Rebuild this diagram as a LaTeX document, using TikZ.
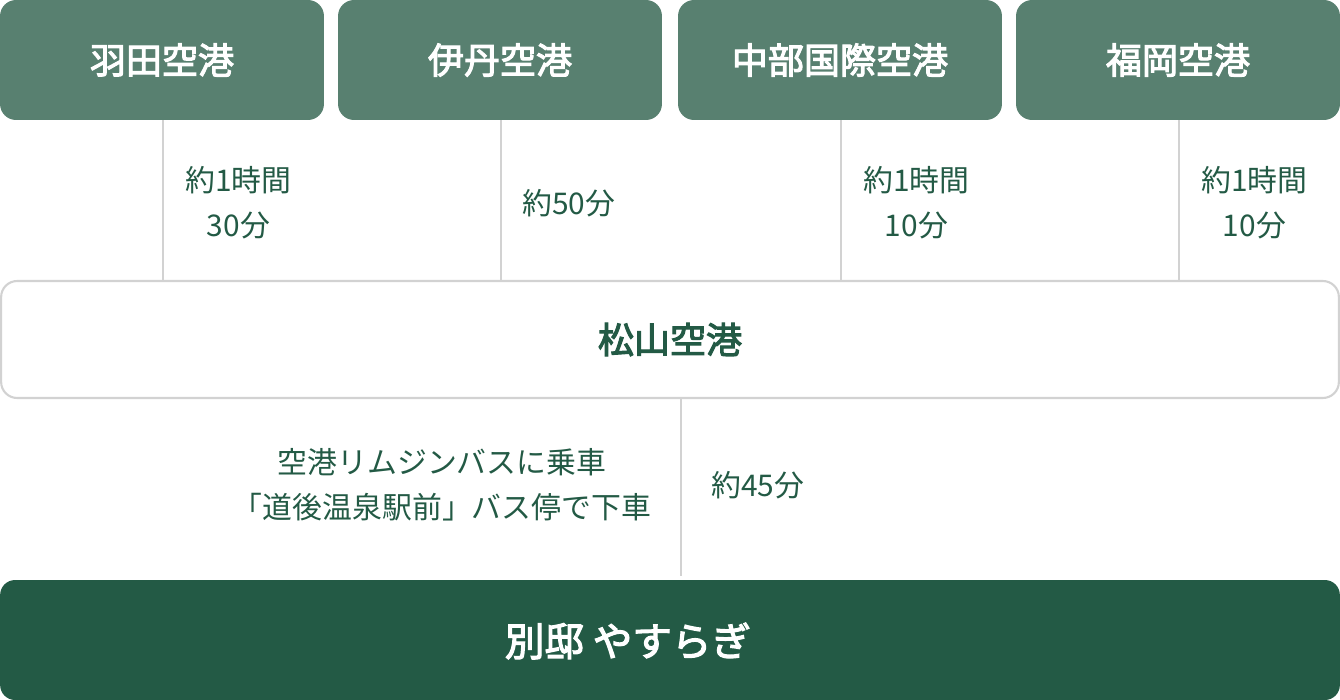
\documentclass[tikz,border=0pt]{standalone}
\usepackage{fontspec}
\setmainfont{Noto Sans CJK JP}
\newfontfamily\medfont[FakeBold=3]{Noto Sans CJK JP}
\usetikzlibrary{positioning}

\definecolor{airport}{RGB}{88,128,112}
\definecolor{deepgreen}{RGB}{35,90,69}
\definecolor{rule}{RGB}{210,210,210}

\begin{document}
\begin{tikzpicture}[x=0.02cm, y=-0.02cm]

        \def\w{6.48cm}
        \def\h{2.4cm}
        \def\nudge{0.02cm}

        % box and text looks
        \tikzset{
            from/.style={fill=airport, text=white, rounded corners=0.32cm,
                minimum width=\w, minimum height=\h, inner sep=0pt,
                font=\fontsize{20.5}{24}\medfont},
            time/.style={text=deepgreen, inner sep=0pt, align=center,
                font=\fontsize{17}{25.5}\selectfont},
            link/.style={draw=rule, line width=1.1pt}
        }

        \useasboundingbox (0,0) rectangle (1340,700);

        % Scope for the four departure airports
        \begin{scope}
            \node[from] (HND) at (162, 60) {羽田空港};
            \node[from] (ITM) at (500, 60) {伊丹空港};
            \node[from] (NGO) at (840, 60) {中部国際空港};
            \node[from] (FUK) at (1178, 60) {福岡空港};
        \end{scope}

        \node[draw=rule, line width=1.2pt, fill=white, rounded corners=0.32cm,
            minimum width=26.76cm, minimum height=2.34cm,
            text=deepgreen, font=\fontsize{20.5}{24}\medfont]
            (MYJ) at (670, 339.5) {松山空港};

        \node[fill=deepgreen, rounded corners=0.3cm, minimum width=26.8cm,
            minimum height=\h] (Besso) at (670, 640) {};
        \node[text=white, inner sep=0pt,
            font=\fontsize{22.5}{26}\medfont]
            (BessoName) at (628, 641) {別邸 やすらぎ};

        \coordinate (Bus) at (681, 398.5);

        \begin{scope}
            \draw[link] ([xshift=\nudge]HND.south) -- ([xshift=\nudge]HND.south |- MYJ.north);
            \draw[link] ([xshift=\nudge]ITM.south) -- ([xshift=\nudge]ITM.south |- MYJ.north);
            \draw[link] ([xshift=\nudge]NGO.south) -- ([xshift=\nudge]NGO.south |- MYJ.north);
            \draw[link] ([xshift=\nudge]FUK.south) -- ([xshift=\nudge]FUK.south |- MYJ.north);
            \draw[link] (Bus) -- ([yshift=0.08cm]Bus |- Besso.north);
        \end{scope}

        % travel times
        \node[time, anchor=west] (tHND) at (185, 203) {約1時間\\30分};
        \node[time, anchor=west] (tITM) at (522, 203) {約50分};
        \node[time, anchor=west] (tNGO) at (863, 203) {約1時間\\10分};
        \node[time, anchor=west] (tFUK) at (1201, 203) {約1時間\\10分};

        \node[time] (Limo) at (442, 485)
            {空港リムジンバスに乗車\\「道後温泉駅前」バス停で下車};
        \node[time, anchor=west] (tBus) at (711, 485) {約45分};

\end{tikzpicture}
\end{document}
